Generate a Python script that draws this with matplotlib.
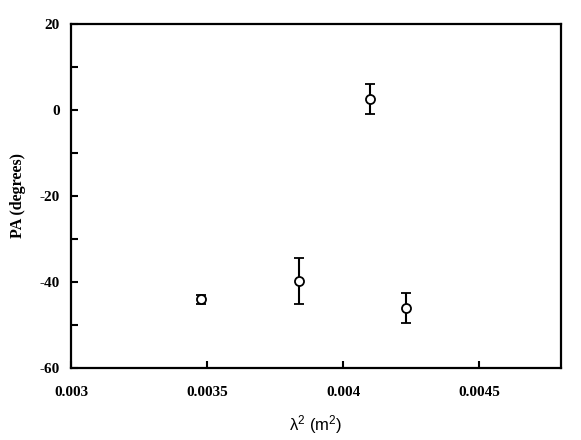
import numpy as np
import matplotlib
matplotlib.use('Agg')
import matplotlib.pyplot as plt
from matplotlib.ticker import MultipleLocator, FixedLocator

# wavelength squared (m^2) and polarisation angle (degrees)
lam2 = [0.003477, 0.003839, 0.004100, 0.004231]
pa = [-44.0, -39.7, 2.5, -46.1]
pa_err = [1.0, 5.35, 3.5, 3.55]

x_ticks = [0.003, 0.0035, 0.004, 0.0045]
x_labels = ['0.003', '0.0035', '0.004', '0.0045']
y_ticks = [-60, -40, -20, 0, 20]

plt.rcParams['font.family'] = 'Liberation Serif'
plt.rcParams['font.weight'] = 'bold'
plt.rcParams['font.size'] = 11
plt.rcParams['mathtext.default'] = 'regular'

fig = plt.figure(figsize=(5.81, 4.40), dpi=100)
ax = fig.add_axes([71 / 581, 1 - 368 / 440, (561 - 71) / 581, (368 - 24) / 440])

ax.errorbar(lam2, pa, yerr=pa_err, fmt='o', color='black', mfc='white', mec='black',
            ms=6.5, mew=1.3, elinewidth=1.5, capsize=3.8, capthick=1.5)

ax.set_xlim(0.003, 0.0048)
ax.set_ylim(-60, 20)

ax.xaxis.set_major_locator(FixedLocator(x_ticks))
ax.set_xticklabels(x_labels)
ax.set_yticks(y_ticks)
ax.set_yticklabels([str(v) for v in y_ticks])
ax.yaxis.set_minor_locator(MultipleLocator(10))

ax.tick_params(which='both', direction='in', length=5, width=1.5, top=False, right=False,
               labelsize=11)
ax.tick_params(axis='x', pad=13)
ax.tick_params(axis='y', pad=8)
for s in ax.spines.values():
    s.set_linewidth(1.6)

ax.set_ylabel('PA (degrees)', fontsize=11.5, fontweight='bold', labelpad=10)
ax.set_xlabel('λ$^2$ (m$^2$)', family='Liberation Sans', fontweight='normal',
              fontsize=12, labelpad=10)

plt.savefig('out.png', dpi=100)
